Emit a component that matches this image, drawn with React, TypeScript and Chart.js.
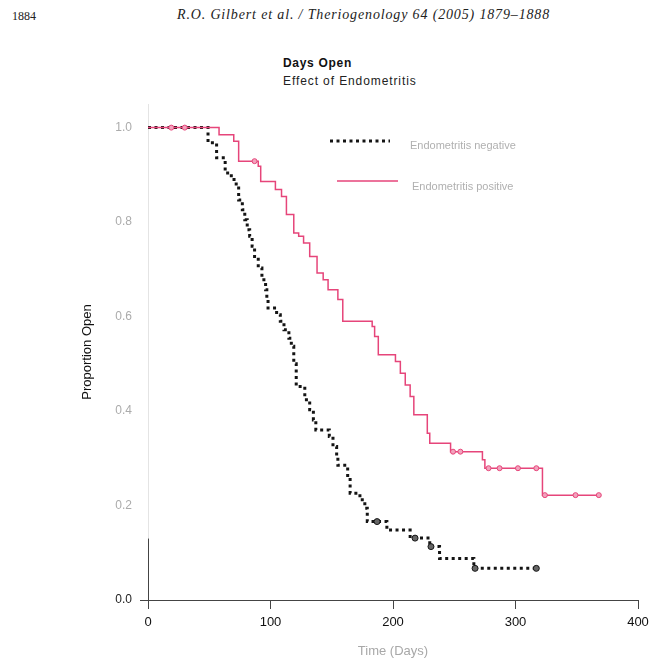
import React, { useEffect, useRef } from 'react';
import { Chart, registerables } from 'chart.js';
Chart.register(...registerables);

const FAMILY = '"Liberation Sans", Arial, sans-serif';
const PINK = '#e6457a';
const BLACK = '#141414';

// Kaplan-Meier: Endometritis negative (days, proportion open)
const negTimes = [0, 49, 56, 63, 68, 72, 74, 77, 79, 81, 83, 85, 87, 90, 93, 96, 97, 98, 105, 108, 111, 115, 117, 119, 121, 128, 132, 135, 137, 148, 151, 154, 155, 163, 165, 173, 177, 179, 195, 214, 230, 238, 266, 317];
const negSurv = [1.0, 0.968, 0.936, 0.904, 0.89, 0.876, 0.847, 0.826, 0.805, 0.784, 0.77, 0.749, 0.727, 0.703, 0.678, 0.657, 0.636, 0.618, 0.604, 0.59, 0.572, 0.554, 0.537, 0.5, 0.452, 0.424, 0.403, 0.381, 0.36, 0.346, 0.325, 0.304, 0.285, 0.26, 0.226, 0.212, 0.194, 0.166, 0.148, 0.131, 0.113, 0.088, 0.067, 0.067];

// Kaplan-Meier: Endometritis positive
const posTimes = [0, 58, 70, 74, 90, 92, 104, 109, 113, 119, 123, 127, 132, 138, 143, 147, 155, 159, 183, 185, 188, 202, 206, 210, 214, 217, 228, 230, 247, 273, 275, 322, 368];
const posSurv = [1.0, 0.985, 0.971, 0.929, 0.918, 0.886, 0.869, 0.854, 0.816, 0.777, 0.77, 0.756, 0.727, 0.692, 0.678, 0.657, 0.636, 0.59, 0.579, 0.558, 0.519, 0.505, 0.48, 0.455, 0.431, 0.392, 0.353, 0.332, 0.314, 0.297, 0.279, 0.222, 0.222];

// censored observations
const negCensTimes = [187, 218, 231, 267, 317];
const negCensSurv = [0.166, 0.131, 0.113, 0.067, 0.067];
const posCensTimes = [19, 30, 87, 249, 255, 278, 287, 302, 317, 324, 349, 368];
const posCensSurv = [1.0, 1.0, 0.929, 0.314, 0.314, 0.279, 0.279, 0.279, 0.279, 0.222, 0.222, 0.222];

const xTicks = [0, 100, 200, 300, 400];
const yTicks = [0, 0.2, 0.4, 0.6, 0.8, 1.0];

const seriesNames = ['Endometritis negative', 'Endometritis positive'];

const toPts = (t: number[], s: number[]) => t.map((x, i) => ({ x, y: s[i] }));

const legendPlugin = {
  id: 'kmLegend',
  afterDraw(chart: any) {
    const ctx = chart.ctx;
    ctx.save();
    ctx.strokeStyle = BLACK;
    ctx.lineWidth = 3;
    ctx.setLineDash([3, 3.5]);
    ctx.beginPath();
    ctx.moveTo(330, 141);
    ctx.lineTo(390, 141);
    ctx.stroke();
    ctx.setLineDash([]);
    ctx.strokeStyle = PINK;
    ctx.lineWidth = 1.5;
    ctx.beginPath();
    ctx.moveTo(337, 181);
    ctx.lineTo(398, 181);
    ctx.stroke();
    ctx.fillStyle = '#b0b0b0';
    ctx.font = `11px ${FAMILY}`;
    ctx.textBaseline = 'middle';
    ctx.textAlign = 'left';
    ctx.fillText(seriesNames[0], 410, 146);
    ctx.fillText(seriesNames[1], 412, 187);
    ctx.restore();
  },
};

const axisExtras = {
  id: 'axisExtras',
  afterDraw(chart: any) {
    const ctx = chart.ctx;
    const xs = chart.scales.x;
    const ys = chart.scales.y;
    const y0 = ys.getPixelForValue(0);
    const x0 = xs.getPixelForValue(0);
    ctx.save();
    ctx.strokeStyle = '#444';
    ctx.lineWidth = 1;
    ctx.beginPath();
    ctx.moveTo(x0 - 8, Math.round(y0) + 0.5);
    ctx.lineTo(x0, Math.round(y0) + 0.5);
    ctx.moveTo(Math.round(x0) + 0.5, ys.getPixelForValue(0.13));
    ctx.lineTo(Math.round(x0) + 0.5, y0 + 9);
    ctx.stroke();
    ctx.restore();
  },
};

export default function App() {
  const ref = useRef<HTMLCanvasElement>(null);
  useEffect(() => {
    Chart.defaults.font.family = FAMILY;
    const chart = new Chart(ref.current as HTMLCanvasElement, {
      type: 'line',
      data: {
        datasets: [
          {
            label: seriesNames[1],
            data: toPts(posTimes, posSurv),
            borderColor: PINK,
            borderWidth: 1.5,
            stepped: 'before',
            pointRadius: 0,
            fill: false,
            order: 1,
          },
          {
            label: seriesNames[0],
            data: toPts(negTimes, negSurv),
            borderColor: BLACK,
            borderWidth: 3,
            borderDash: [3, 3.5],
            borderCapStyle: 'butt',
            stepped: 'before',
            pointRadius: 0,
            fill: false,
            order: 3,
          },
          {
            label: 'pos censored',
            data: toPts(posCensTimes, posCensSurv),
            showLine: false,
            pointRadius: 2.5,
            pointBackgroundColor: '#f2a3bd',
            pointBorderColor: PINK,
            pointBorderWidth: 1,
            order: 0,
          },
          {
            label: 'neg censored',
            data: toPts(negCensTimes, negCensSurv),
            showLine: false,
            pointRadius: 3,
            pointBackgroundColor: '#666',
            pointBorderColor: BLACK,
            pointBorderWidth: 1,
            order: 2,
          },
        ],
      } as any,
      options: {
        animation: false,
        responsive: false,
        maintainAspectRatio: false,
        layout: { padding: { left: 80, top: 104, right: 17, bottom: 0 } },
        plugins: { legend: { display: false }, tooltip: { enabled: false } },
        scales: {
          x: {
            type: 'linear',
            min: 0,
            max: 400,
            afterBuildTicks: (s: any) => {
              s.ticks = xTicks.map((v) => ({ value: v }));
            },
            afterFit: (s: any) => {
              s.height = 59;
              s.paddingRight = 0;
              s.paddingLeft = 0;
            },
            grid: { display: true, drawOnChartArea: false, drawTicks: true, tickLength: 9, color: '#444' },
            border: { color: '#444', width: 1 },
            ticks: { color: '#111', font: { size: 13 }, padding: 6 },
            title: { display: true, text: 'Time (Days)', color: '#a8a8a8', font: { size: 13 }, padding: { top: 0, bottom: 0 } },
          },
          y: {
            type: 'linear',
            min: 0,
            max: 1.05,
            afterBuildTicks: (s: any) => {
              s.ticks = yTicks.map((v) => ({ value: v }));
            },
            afterFit: (s: any) => {
              s.width = 68;
            },
            grid: { display: false, drawTicks: false },
            border: { color: '#e4e4e4', width: 1 },
            ticks: {
              color: (c: any) => (c.tick && c.tick.value === 0 ? '#222' : '#ababab'),
              font: { size: 12 },
              padding: 16,
              callback: (v: any) => Number(v).toFixed(1),
            },
            title: { display: true, text: 'Proportion Open', color: '#111', font: { size: 13 }, padding: { top: 0, bottom: 0 } },
          },
        },
      } as any,
      plugins: [legendPlugin, axisExtras],
    });
    return () => chart.destroy();
  }, []);

  return (
    <div style={{ position: 'absolute', left: 0, top: 0, width: 655, height: 659, background: '#fff', overflow: 'hidden' }}>
      <div style={{ position: 'absolute', left: 12, top: 9, fontFamily: '"Liberation Serif", serif', fontSize: 12, color: '#222' }}>1884</div>
      <div style={{ position: 'absolute', left: 177, top: 7, whiteSpace: 'nowrap', fontFamily: '"Liberation Serif", serif', fontStyle: 'italic', fontSize: 14, letterSpacing: '0.85px', color: '#222' }}>
        R.O. Gilbert et al. / Theriogenology 64 (2005) 1879–1888
      </div>
      <div style={{ position: 'absolute', left: 283, top: 56, whiteSpace: 'nowrap', fontFamily: FAMILY, fontWeight: 'bold', fontSize: 12, letterSpacing: '0.7px', color: '#111' }}>Days Open</div>
      <div style={{ position: 'absolute', left: 283, top: 74, whiteSpace: 'nowrap', fontFamily: FAMILY, fontSize: 12, letterSpacing: '0.9px', color: '#222' }}>Effect of Endometritis</div>
      <canvas ref={ref} width={655} height={659} style={{ position: 'absolute', left: 0, top: 0, width: 655, height: 659 }} />
    </div>
  );
}
